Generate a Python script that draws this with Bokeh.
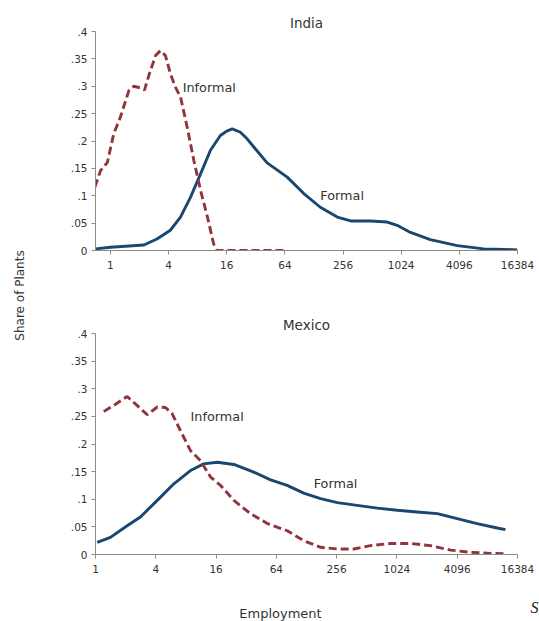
from bokeh.plotting import figure
from bokeh.layouts import row, column
from bokeh.models import Range1d, FixedTicker, NumeralTickFormatter, ColumnDataSource
from bokeh.core.properties import value
from bokeh.embed import file_html
from bokeh.resources import INLINE
import math

# ---------------- data ----------------
x_ticks = [1, 4, 16, 64, 256, 1024, 4096, 16384]
y_ticks = [0, 0.05, 0.1, 0.15, 0.2, 0.25, 0.3, 0.35, 0.4]
y_tick_labels = ["0", ".05", ".1", ".15", ".2", ".25", ".3", ".35", ".4"]

india_informal_emp = [0.69, 0.79, 0.93, 1.08, 1.27, 1.55, 1.74, 2.04, 2.25, 2.5, 2.93, 3.29,
                      3.71, 4.17, 4.72, 5.32, 6.23, 7.31, 8.57, 10.1, 11.7, 12.7, 20, 32, 62]
india_informal_share = [0.116, 0.146, 0.161, 0.213, 0.244, 0.292, 0.300, 0.297, 0.293, 0.320,
                        0.356, 0.365, 0.356, 0.323, 0.298, 0.280, 0.225, 0.164, 0.110, 0.061,
                        0.012, 0.0, 0.0, 0.0, 0.0]

india_formal_emp = [0.70, 1, 2.22, 3.03, 4.17, 5.31, 6.73, 8.57, 10.85, 13.74, 16, 18.25, 22.16,
                    26, 30.5, 41.9, 67.6, 100.4, 149, 223, 307, 491, 734, 929, 1278, 2048, 3901,
                    7330, 11830, 16384]
india_formal_share = [0.003, 0.006, 0.010, 0.021, 0.037, 0.061, 0.097, 0.140, 0.183, 0.210,
                      0.218, 0.222, 0.216, 0.204, 0.189, 0.160, 0.134, 0.104, 0.079, 0.061,
                      0.054, 0.054, 0.052, 0.046, 0.033, 0.020, 0.009, 0.003, 0.002, 0.001]

mexico_informal_emp = [1.21, 1.53, 2.07, 2.60, 3.29, 4.14, 4.99, 5.82, 7.06, 8.88, 11.16, 14.12,
                       17.75, 24.1, 35.3, 52, 82.1, 120, 177, 260, 380, 556, 885, 1399, 2210,
                       3516, 5556, 8780, 12940]
mexico_informal_share = [0.259, 0.270, 0.286, 0.270, 0.253, 0.267, 0.266, 0.255, 0.224, 0.188,
                         0.170, 0.140, 0.125, 0.098, 0.074, 0.056, 0.043, 0.025, 0.013, 0.010,
                         0.010, 0.016, 0.020, 0.020, 0.016, 0.008, 0.004, 0.002, 0.001]

mexico_formal_emp = [1.04, 1.41, 2.07, 2.81, 4.14, 6.06, 8.88, 12.04, 16.45, 24.1, 38.1, 56.1,
                     82.1, 120, 177, 260, 410, 653, 1031, 1629, 2592, 4096, 6470, 10290, 12417]
mexico_formal_share = [0.022, 0.031, 0.052, 0.068, 0.098, 0.128, 0.152, 0.164, 0.167, 0.163,
                       0.149, 0.135, 0.125, 0.111, 0.101, 0.094, 0.089, 0.084, 0.080, 0.077,
                       0.074, 0.065, 0.056, 0.048, 0.045]

# curve labels: (text, employment, share)
india_labels = [("Informal", 5.6, 0.298), ("Formal", 149, 0.100)]
mexico_labels = [("Informal", 8.9, 0.249), ("Formal", 151, 0.129)]

NAVY = "#1a476f"
MAROON = "#90353b"
FONT = "DejaVu Sans"
AXIS_COL = "#8c8c8c"
TEXT_COL = "#333333"

FRAME_W = 422
LEFT_B = 57
RIGHT_B = 22


def panel(title, x_start, emp_f, sh_f, emp_i, sh_i, labels, frame_h, top, bottom):
    p = figure(frame_width=FRAME_W, frame_height=frame_h, x_axis_type="log",
               x_range=Range1d(x_start, 16384), y_range=Range1d(0, 0.4),
               output_backend="svg", toolbar_location=None,
               min_border_left=LEFT_B, min_border_right=RIGHT_B,
               min_border_top=top, min_border_bottom=bottom)
    p.title.text = title
    p.title.align = "center"
    p.title.text_font = FONT
    p.title.text_font_size = "13.5px"
    p.title.text_font_style = "normal"
    p.title.text_color = TEXT_COL
    p.title.standoff = 1
    p.xgrid.visible = False
    p.ygrid.visible = False
    p.outline_line_color = None
    p.background_fill_color = "white"
    p.border_fill_color = "white"

    p.xaxis.ticker = FixedTicker(ticks=x_ticks, minor_ticks=[])
    p.xaxis.formatter = NumeralTickFormatter(format="0")
    p.yaxis.ticker = FixedTicker(ticks=y_ticks, minor_ticks=[])
    p.yaxis.major_label_overrides = dict(zip(y_ticks, y_tick_labels))
    for ax in (p.xaxis[0], p.yaxis[0]):
        ax.axis_line_color = AXIS_COL
        ax.major_tick_line_color = AXIS_COL
        ax.major_tick_out = 4
        ax.major_tick_in = 0
        ax.minor_tick_out = 0
        ax.minor_tick_in = 0
        ax.major_label_text_font = FONT
        ax.major_label_text_font_size = "10.5px"
        ax.major_label_text_color = TEXT_COL
    p.xaxis.major_label_standoff = 6
    p.yaxis.major_label_standoff = 4

    p.line(emp_f, sh_f, line_color=NAVY, line_width=2.9, line_join="round")
    p.line(emp_i, sh_i, line_color=MAROON, line_width=2.9, line_dash="8 4")

    src = ColumnDataSource(dict(t=[l[0] for l in labels], x=[l[1] for l in labels],
                                y=[l[2] for l in labels]))
    p.text("x", "y", text="t", source=src, text_font=value(FONT), text_font_size="12.8px",
           text_color=TEXT_COL, text_align="left", text_baseline="middle")
    return p


p1 = panel("India", 0.7, india_formal_emp, india_formal_share,
           india_informal_emp, india_informal_share, india_labels, 219, 31, 45)
p2 = panel("Mexico", 1, mexico_formal_emp, mexico_formal_share,
           mexico_informal_emp, mexico_informal_share, mexico_labels, 221, 38, 33)

# bottom axis title strip (frame starts at the panels' frame left edge)
P3_W = FRAME_W + RIGHT_B
p3 = figure(frame_width=P3_W, frame_height=34, x_range=Range1d(0, P3_W),
            y_range=Range1d(0, 34), output_backend="svg", toolbar_location=None,
            min_border_left=LEFT_B, min_border_right=0, min_border_top=0,
            min_border_bottom=0, x_axis_location=None, y_axis_location=None)
p3.grid.visible = False
p3.outline_line_color = None
p3.text([185], [8], text=["Employment"], text_font=value(FONT), text_font_size="13px",
        text_color=TEXT_COL, text_align="center", text_baseline="middle")
p3.text([435], [14], text=["S"], text_font=value("Liberation Serif"),
        text_font_style="italic", text_font_size="16px", text_color="#222222",
        text_align="left", text_baseline="middle")

# left axis title strip
lf = figure(frame_width=38, frame_height=590, x_range=Range1d(0, 38), y_range=Range1d(0, 590),
            output_backend="svg", toolbar_location=None, min_border_left=0,
            min_border_right=0, min_border_top=31, min_border_bottom=0,
            x_axis_location=None, y_axis_location=None)
lf.grid.visible = False
lf.outline_line_color = None
lf.text([19], [326], text=["Share of Plants"], angle=math.pi / 2, text_font=value(FONT),
        text_font_size="12px", text_color=TEXT_COL, text_align="center",
        text_baseline="middle")

layout = row(lf, column(p1, p2, p3))

open("out.html", "w").write(file_html(layout, INLINE))
